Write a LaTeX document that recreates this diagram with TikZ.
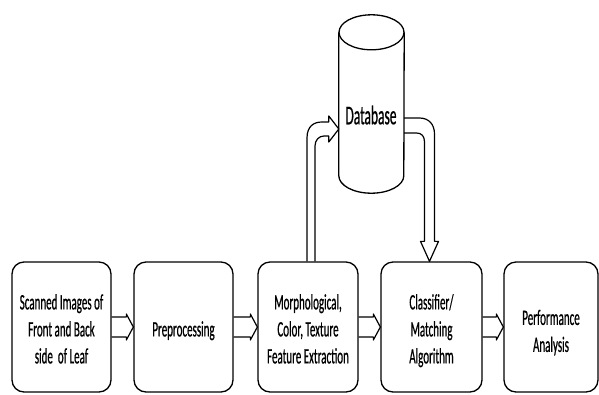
\documentclass[tikz,border=0pt]{standalone}
\usepackage{fontspec}
\setmainfont{Carlito}[FakeStretch=0.5,FakeBold=0.6]
\usetikzlibrary{calc}
\newcommand\lowtext[1]{\raisebox{-4pt}[\height][\depth]{\begin{tabular}{@{}c@{}}#1\end{tabular}}}
\tikzset{
  box/.style={draw, line width=1.3pt, rounded corners=12pt, minimum height=130pt, align=center,
    font=\fontsize{22}{27}\selectfont, inner sep=0pt},
  blk/.style={draw, line width=1.2pt, line join=round},
  cylline/.style={draw, line width=1.3pt}
}
\newcommand\harr[2]{\draw[blk] let \p1=(#1.east), \p2=(#2.west) in
  (\x1,\y1+10pt) -- (\x2-7pt,\y1+10pt) -- (\x2-7pt,\y1+13pt) -- (\x2,\y1) --
  (\x2-7pt,\y1-13pt) -- (\x2-7pt,\y1-10pt) -- (\x1,\y1-10pt);}
\begin{document}
\begin{tikzpicture}[x=1pt,y=-1pt]
\useasboundingbox (0,0) rectangle (599,394);
% boxes
\node[box, minimum width=99pt] (b1) at (61.5,327) {\lowtext{Scanned Images of\\Front and Back\\side~ of Leaf}};
\node[box, minimum width=99pt] (b2) at (183.5,327) {\lowtext{Preprocessing}};
\node[box, minimum width=100pt] (b3) at (308,327) {\lowtext{Morphological,\\Color, Texture\\Feature Extraction}};
\node[box, minimum width=101pt] (b4) at (431.5,327) {\lowtext{Classifier/\\Matching\\Algorithm}};
\node[box, minimum width=94pt] (b5) at (551,327) {\raisebox{-6pt}[\height][\depth]{\begin{tabular}{@{}c@{}}Performance\\Analysis\end{tabular}}};
% database cylinder
\node[minimum width=65pt, minimum height=143pt, inner sep=0pt] (cyl) at (371.5,104) {};
\node[font=\fontsize{27}{30}\selectfont, inner sep=0pt] (dbl) at (371,115) {Database};
\draw[cylline] (cyl.north) ellipse [x radius=32.5pt, y radius=17.5pt];
\draw[cylline] (cyl.north west) -- (cyl.south west)
  arc[start angle=180, end angle=360, x radius=32.5pt, y radius=17.5pt] -- (cyl.north east);
% horizontal block arrows
\harr{b1}{b2}
\harr{b2}{b3}
\harr{b3}{b4}
\harr{b4}{b5}
% up arrow from feature extraction into database
\draw[blk] let \p1=(b3.north), \p2=(cyl.west) in
  (\x1-1pt,\y1) -- (\x1-1pt,\y2-34pt)
  .. controls (\x1-1pt,\y2-22pt) and (\x1+6pt,\y2-18pt) .. (\x1+14pt,\y2-18pt)
  -- (\x2-10pt,\y2-18pt) -- (\x2-10pt,\y2-12pt) -- (\x2,\y2-25pt) -- (\x2-10pt,\y2-38pt)
  -- (\x2-10pt,\y2-32pt) -- (\x1+16pt,\y2-32pt)
  .. controls (\x1+11pt,\y2-32pt) and (\x1+7pt,\y2-36pt) .. (\x1+7pt,\y2-42pt)
  -- (\x1+7pt,\y1);
% down arrow from database into classifier
\draw[blk] let \p1=(b4.north), \p2=(cyl.east) in
  (\x2,\y2-14pt) -- (\x1-12pt,\y2-14pt)
  .. controls (\x1-3pt,\y2-14pt) and (\x1+3pt,\y2-20pt) .. (\x1+3pt,\y2-30pt)
  -- (\x1+3pt,\y1+20pt) -- (\x1+7pt,\y1+20pt) -- (\x1-2pt,\y1) -- (\x1-11pt,\y1+20pt)
  -- (\x1-7pt,\y1+20pt) -- (\x1-7pt,\y2-38pt)
  .. controls (\x1-7pt,\y2-32pt) and (\x1-10pt,\y2-29pt) .. (\x1-15pt,\y2-29pt)
  -- (\x2,\y2-29pt);
\end{tikzpicture}
\end{document}
